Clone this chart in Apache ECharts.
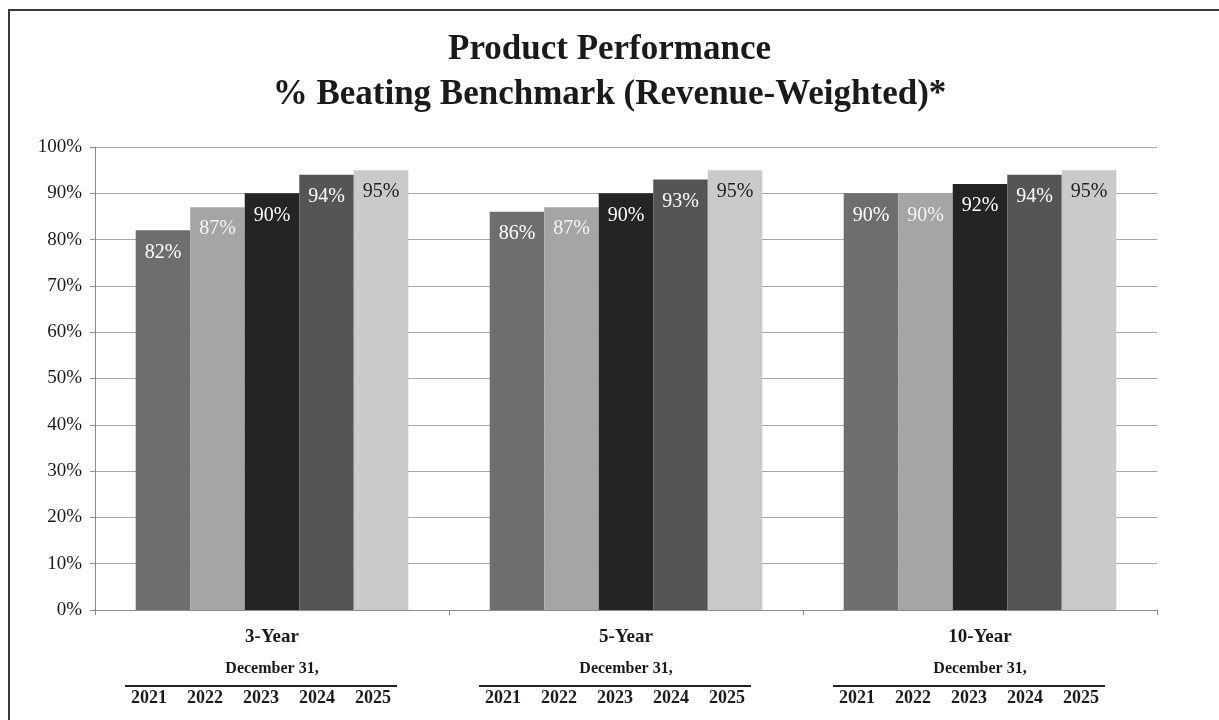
<!DOCTYPE html>
<html>
<head>
<meta charset="utf-8">
<script src="https://cdn.jsdelivr.net/npm/echarts@6/dist/echarts.min.js"></script>
<style>
  html, body { margin: 0; padding: 0; background: #fff; }
  #frame { position: absolute; left: 8px; top: 9px; width: 1211px; height: 711px;
           border-left: 2px solid #3a3a3a; border-top: 2px solid #3a3a3a; box-sizing: border-box; }
  #chart { position: absolute; left: 0; top: 0; width: 1219px; height: 720px; }
</style>
</head>
<body>
<div id="frame"></div>
<div id="chart"></div>
<script>
const horizons = ['3-Year', '5-Year', '10-Year'];
const years = ['2021', '2022', '2023', '2024', '2025'];
const values2021 = [82, 86, 90];
const values2022 = [87, 87, 90];
const values2023 = [90, 90, 92];
const values2024 = [94, 93, 94];
const values2025 = [95, 95, 95];
const yTicks = [0, 10, 20, 30, 40, 50, 60, 70, 80, 90, 100];

const seriesValues = [values2021, values2022, values2023, values2024, values2025];
const barColors = ['#6e6e6e', '#a5a5a5', '#242424', '#555555', '#cacaca'];
const labelColors = ['#ffffff', '#f4f4f4', '#ffffff', '#ffffff', '#222222'];
const serif = '"Liberation Serif", "Times New Roman", serif';

const chart = echarts.init(document.getElementById('chart'), null, { renderer: 'canvas' });

chart.setOption({
  backgroundColor: 'transparent',
  animation: false,
  title: {
    text: 'Product Performance\n% Beating Benchmark (Revenue-Weighted)*',
    left: 'center',
    top: 27,
    padding: 0,
    textStyle: { fontFamily: serif, fontWeight: 'bold', fontSize: 35, lineHeight: 45, color: '#1a1a1a' }
  },
  grid: { left: 95, right: 62, top: 147, bottom: 110 },
  xAxis: {
    type: 'category',
    data: horizons,
    axisLine: { lineStyle: { color: '#8c8c8c', width: 1 } },
    axisTick: { show: true, length: 5, lineStyle: { color: '#8c8c8c' } },
    axisLabel: {
      margin: 11,
      interval: 0,
      formatter: function (v) {
        return '{h|' + v + '}\n{d|December 31,}\n{ln| }{sp| }\n' +
          years.map(function (y) { return '{y|' + y + '}'; }).join('') + '{sp| }';
      },
      rich: {
        h: { fontFamily: serif, fontWeight: 'bold', fontSize: 19, lineHeight: 32, color: '#1a1a1a' },
        d: { fontFamily: serif, fontWeight: 'bold', fontSize: 16, lineHeight: 32, color: '#1a1a1a' },
        ln: { width: 272, height: 2, lineHeight: 2, fontSize: 1, backgroundColor: '#222222' },
        sp: { width: 22, fontSize: 1, lineHeight: 2 },
        y: { fontFamily: serif, fontWeight: 'bold', fontSize: 18, lineHeight: 22, width: 56, align: 'center', color: '#1a1a1a' }
      }
    }
  },
  yAxis: {
    type: 'value',
    min: yTicks[0],
    max: yTicks[yTicks.length - 1],
    interval: 10,
    axisLine: { show: true, lineStyle: { color: '#8c8c8c' } },
    axisTick: { show: true, length: 5, lineStyle: { color: '#8c8c8c' } },
    splitLine: { lineStyle: { color: '#a6a6a6', width: 1 } },
    axisLabel: { formatter: '{value}%', margin: 13, fontFamily: serif, fontSize: 19, color: '#1a1a1a' }
  },
  series: years.map(function (y, i) {
    return {
      name: y,
      type: 'bar',
      data: seriesValues[i],
      barGap: '0%',
      barCategoryGap: '23%',
      itemStyle: { color: barColors[i] },
      label: {
        show: true,
        position: 'insideTop',
        distance: 12,
        formatter: '{c}%',
        fontFamily: serif,
        fontSize: 20,
        color: labelColors[i]
      }
    };
  })
});
</script>
</body>
</html>
